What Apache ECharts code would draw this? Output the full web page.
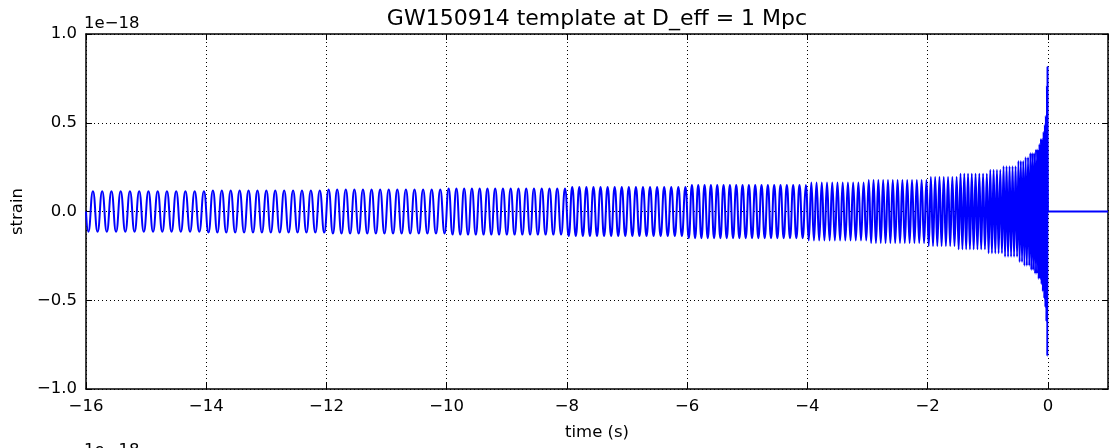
<!DOCTYPE html>
<html>
<head>
<meta charset="utf-8">
<script src="https://cdn.jsdelivr.net/npm/echarts@6/dist/echarts.min.js"></script>
<style>
html,body{margin:0;padding:0;background:#fff;}
#chart{width:1110px;height:448px;}
</style>
</head>
<body>
<div id="chart"></div>
<script>
// Values (strain in units of 1e-18, time in s)
const segEdges      = [-16, -14, -12, -10, -8, -6, -4, -3, -2, -1.5, -1, -0.75, -0.5, -0.4, -0.3, -0.22, -0.16, -0.12, -0.09, -0.065, -0.045, -0.03, -0.02, -0.012, -0.004];
const segHalfCycles = [26, 27, 28, 31, 34, 38, 23, 25, 14, 16, 9, 10, 5, 5, 5, 4, 3, 3, 2, 2, 2, 1, 1, 2];
const segAmplitude  = [0.114, 0.119, 0.124, 0.130, 0.138, 0.150, 0.163, 0.178, 0.195, 0.213, 0.235, 0.255, 0.285, 0.305, 0.33, 0.35, 0.38, 0.41, 0.45, 0.49, 0.54, 0.62, 0.71, 0.815];
const startPoint = [-16, 0];
const tailPoints = [[0, 0], [1, 0]];
const xTicks = [-16, -14, -12, -10, -8, -6, -4, -2, 0];
const yTicks = [-1.0, -0.5, 0.0, 0.5, 1.0];

// extrema of the oscillation built from the read segment counts
const strain = [startPoint];
let sign = -1;
for (let i = 0; i < segHalfCycles.length; i++) {
  const a = segEdges[i];
  const b = segEdges[i + 1];
  const n = segHalfCycles[i];
  const h = (b - a) / n;
  for (let k = 0; k < n; k++) {
    strain.push([a + (k + 0.5) * h, sign * segAmplitude[i]]);
    sign = -sign;
  }
}
tailPoints.forEach(p => strain.push(p));

const FONT = 'DejaVu Sans';
const fmtNum = (v, d) => (v < 0 ? '\u2212' : '') + Math.abs(v).toFixed(d);

const chart = echarts.init(document.getElementById('chart'), null, {renderer: 'canvas'});
chart.setOption({
  animation: false,
  backgroundColor: '#ffffff',
  grid: {left: 86, right: 2, top: 34, bottom: 59, containLabel: false},
  graphic: [
    {type: 'text', x: 597, y: 8, style: {text: 'GW150914 template at D_eff = 1 Mpc', textAlign: 'center', textVerticalAlign: 'top', fontFamily: FONT, fontSize: 22, fill: '#000'}},
    {type: 'text', left: 84, top: 15, style: {text: '1e\u221218', fontFamily: FONT, fontSize: 16.5, fill: '#000'}},
    {type: 'text', left: 84, top: 442, style: {text: '1e\u221218', fontFamily: FONT, fontSize: 16.5, fill: '#000'}}
  ],
  xAxis: [
    {
      type: 'value', min: -16, max: 1, interval: 2,
      name: 'time (s)', nameLocation: 'middle', nameGap: 35,
      nameTextStyle: {fontFamily: FONT, fontSize: 16.5, color: '#000'},
      axisLine: {show: true, onZero: false, lineStyle: {color: '#000', width: 1.5}},
      axisTick: {show: true, inside: true, length: 6, lineStyle: {color: '#000', width: 1}},
      axisLabel: {
        show: true, margin: 9, showMaxLabel: false,
        fontFamily: FONT, fontSize: 16.5, color: '#000',
        formatter: v => xTicks.indexOf(v) >= 0 ? fmtNum(v, 0) : ''
      },
      splitLine: {show: true, lineStyle: {color: '#000', width: 1, type: [1, 3]}}
    },
    {
      type: 'value', min: -16, max: 1, interval: 2, position: 'top',
      axisLine: {show: true, onZero: false, lineStyle: {color: '#000', width: 1.5}},
      axisTick: {show: true, inside: true, length: 6, lineStyle: {color: '#000', width: 1}},
      axisLabel: {show: false},
      splitLine: {show: false}
    }
  ],
  yAxis: [
    {
      type: 'value', min: -1, max: 1, interval: 0.5,
      name: 'strain', nameLocation: 'middle', nameGap: 60,
      nameTextStyle: {fontFamily: FONT, fontSize: 16.5, color: '#000'},
      axisLine: {show: true, onZero: false, lineStyle: {color: '#000', width: 1.5}},
      axisTick: {show: true, inside: true, length: 6, lineStyle: {color: '#000', width: 1}},
      axisLabel: {
        show: true, margin: 9,
        fontFamily: FONT, fontSize: 16.5, color: '#000',
        formatter: v => fmtNum(v, 1)
      },
      splitLine: {show: true, lineStyle: {color: '#000', width: 1, type: [1, 3]}}
    },
    {
      type: 'value', min: -1, max: 1, interval: 0.5, position: 'right',
      axisLine: {show: true, onZero: false, lineStyle: {color: '#000', width: 1.5}},
      axisTick: {show: true, inside: true, length: 6, lineStyle: {color: '#000', width: 1}},
      axisLabel: {show: false},
      splitLine: {show: false}
    }
  ],
  series: [{
    type: 'line',
    xAxisIndex: 0, yAxisIndex: 0,
    data: strain,
    smooth: 0.5,
    showSymbol: false,
    sampling: null,
    lineStyle: {color: '#0000ff', width: 2},
    emphasis: {disabled: true},
    z: 3
  }]
});
</script>
</body>
</html>
